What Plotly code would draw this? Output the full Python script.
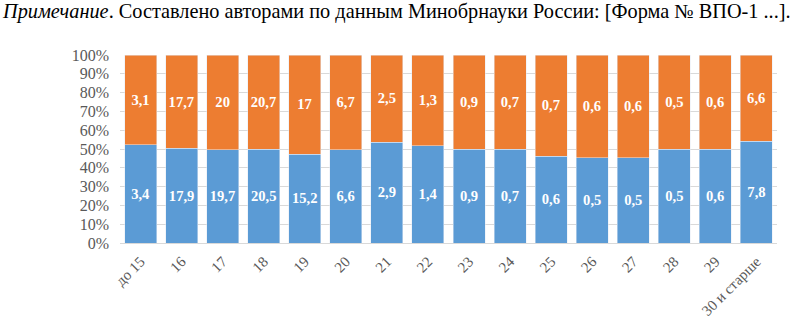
import plotly.graph_objects as go

categories = ["до 15", "16", "17", "18", "19", "20", "21", "22", "23", "24", "25", "26", "27", "28", "29", "30 и старше"]
blue_vals = [3.4, 17.9, 19.7, 20.5, 15.2, 6.6, 2.9, 1.4, 0.9, 0.7, 0.6, 0.5, 0.5, 0.5, 0.6, 7.8]
orange_vals = [3.1, 17.7, 20, 20.7, 17, 6.7, 2.5, 1.3, 0.9, 0.7, 0.7, 0.6, 0.6, 0.5, 0.6, 6.6]
y_ticks = [0, 10, 20, 30, 40, 50, 60, 70, 80, 90, 100]

def fmt(v):
    return ("%g" % v).replace(".", ",")

serif = "Liberation Serif, Times New Roman, serif"

fig = go.Figure()
for vals, col in ((blue_vals, "#5B9BD5"), (orange_vals, "#ED7D31")):
    fig.add_bar(x=categories, y=vals, marker_color=col,
                text=[fmt(v) for v in vals], textposition="inside",
                insidetextanchor="middle", textangle=0,
                textfont=dict(family=serif, size=15, color="white", weight="bold"),
                hoverinfo="skip")

L, R, T, B = 120, 22, 55, 76
W, H = 799, 319
pw = W - L - R

fig.update_layout(
    barmode="stack", barnorm="percent", bargap=0.22,
    width=W, height=H,
    margin=dict(l=L, r=R, t=T, b=B, autoexpand=False),
    plot_bgcolor="white", paper_bgcolor="white",
    showlegend=False,
    uniformtext=dict(minsize=8, mode="show"),
    font=dict(family=serif),
)
fig.update_yaxes(range=[0, 100], tickvals=y_ticks, ticktext=[f"{v}%" for v in y_ticks],
                 showgrid=True, gridcolor="#D9D9D9", gridwidth=1, zeroline=False,
                 tickfont=dict(family=serif, size=16, color="#595959"), ticks="",
                 ticklabelstandoff=10)
fig.update_xaxes(tickangle=-45, tickfont=dict(family=serif, size=15, color="#595959"),
                 showline=True, linecolor="#D9D9D9", ticks="", ticklabelstandoff=3)

fig.add_annotation(
    text="<i>Примечание</i>. Составлено авторами по данным Минобрнауки России: [Форма № ВПО-1 ...].",
    xref="paper", yref="paper", x=-L / pw, y=1, xanchor="left", yanchor="bottom",
    yshift=30, showarrow=False,
    font=dict(family=serif, size=20.3, color="black"),
)

fig.write_html("out.html", config={"displayModeBar": False},
               post_script="document.body.style.margin='0';document.body.style.overflow='hidden';")
